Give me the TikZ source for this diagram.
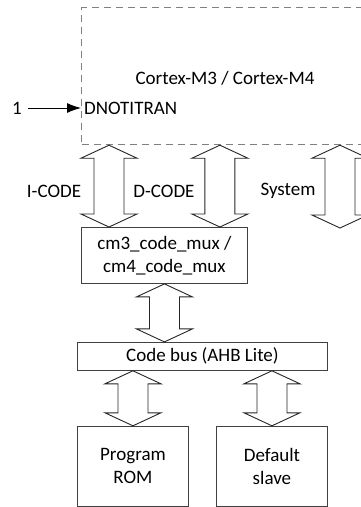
\documentclass[tikz,border=0pt]{standalone}
\usepackage{fontspec}
\setmainfont{Carlito}
\usetikzlibrary{arrows.meta,positioning,calc}

% outline of a two-headed bus arrow between two tips
\newcommand{\busarrow}[2]{%
  \draw[bus] let \p1=(#1), \p2=(#2) in
    (\x1,\y1) -- (\x1+28pt,\y1-13pt) -- (\x1+15pt,\y1-13pt)
    -- (\x1+15pt,\y2+13pt) -- (\x1+28pt,\y2+13pt) -- (\x1,\y2)
    -- (\x1-28pt,\y2+13pt) -- (\x1-15pt,\y2+13pt)
    -- (\x1-15pt,\y1-13pt) -- (\x1-28pt,\y1-13pt) -- cycle;}

\begin{document}
\begin{tikzpicture}[
    x=1pt, y=-1pt,
    font=\fontsize{19}{23}\selectfont,
    box/.style={rectangle, draw=black!75, line width=0.9pt, align=center, inner sep=0pt},
    core/.style={rectangle, draw=black!50, line width=1.2pt, dash pattern=on 7pt off 5pt, inner sep=0pt},
    bus/.style={draw=black!85, line width=0.9pt, fill=white},
    arrow/.style={-{Latex[length=14pt,width=10pt]}, line width=0.9pt}
]
    \clip (0,0) rectangle (361,507);

    \node[core, minimum width=300pt, minimum height=137pt, anchor=north west] (core) at (81,7) {};
    \node (title) at (225,78) {Cortex-M3 / Cortex-M4};
    \node[anchor=west, inner sep=3pt] (dnot) at (81,108) {DNOTITRAN};
    \node (one) at (17,108) {1};
    \draw[arrow, shorten <=3pt] (one) -- (dnot.west);

    \node[box, minimum width=166pt, minimum height=56pt, anchor=north west] (mux) at (81,227) {cm3\_code\_mux /\\cm4\_code\_mux};
    \node[box, minimum width=250pt, minimum height=28pt, below=58pt of mux, xshift=38pt] (bus) {Code bus (AHB Lite)};
    \node[box, minimum width=111pt, minimum height=80pt, below right=55pt and 0pt of bus.south west] (rom) {Program\\ROM};
    \node[box, minimum width=111pt, minimum height=80pt, below left=55pt and 0pt of bus.south east] (dflt) {Default\\slave};

    % bus arrows
    \path (mux.north west) ++(28pt,0) coordinate (ibot) (ibot |- core.south) coordinate (itop);
    \path (mux.north east) ++(-28pt,0) coordinate (dbot) (dbot |- core.south) coordinate (dtop);
    \coordinate (sbot) at (340,228);
    \coordinate (stop) at (sbot |- core.south);
    \busarrow{itop}{ibot}
    \busarrow{dtop}{dbot}
    \busarrow{stop}{sbot}
    \busarrow{mux.south}{bus.north -| mux.south}
    \busarrow{bus.south -| rom.north}{rom.north}
    \busarrow{bus.south -| dflt.north}{dflt.north}

    \node (ilbl) at (54,191) {I-CODE};
    \node (dlbl) at (164,191) {D-CODE};
    \node (slbl) at (288,191) {System};
\end{tikzpicture}
\end{document}
